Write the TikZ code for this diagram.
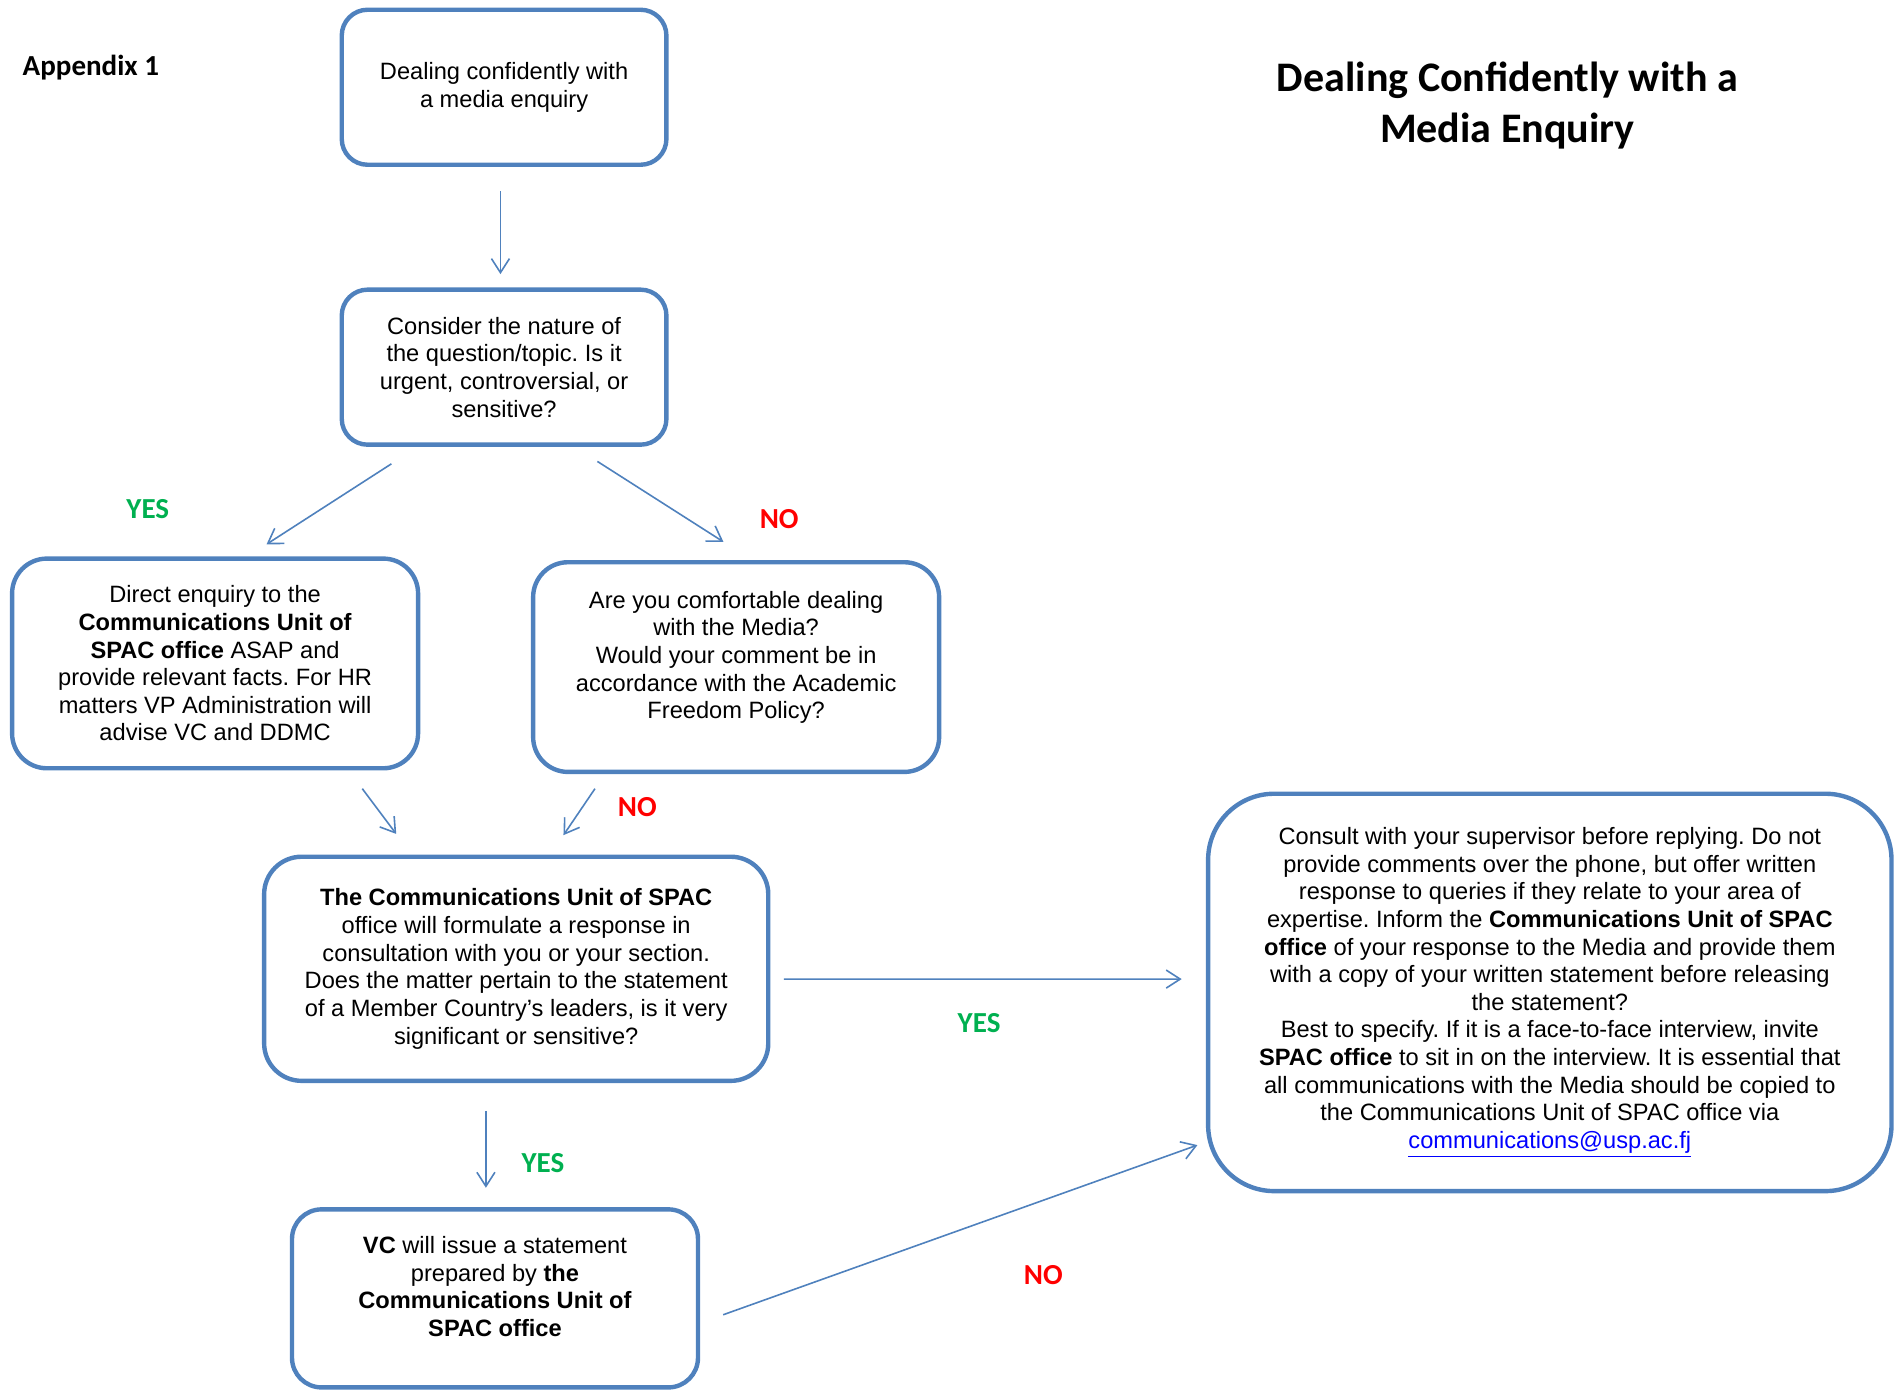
\documentclass[tikz,border=0pt]{standalone}
\usepackage{fontspec}
\setmainfont{Liberation Sans}
\newfontfamily\calibri{Carlito}
\usetikzlibrary{arrows.meta,calc}
\definecolor{boxblue}{RGB}{79,129,189}
\definecolor{yesgreen}{RGB}{0,176,80}
\definecolor{nored}{RGB}{255,0,0}
\definecolor{linkblue}{RGB}{0,0,255}
\frenchspacing
\begin{document}
\begin{tikzpicture}[x=0.605pt, y=-0.605pt,
    stage/.style  = {draw=boxblue, line width=2.2pt, align=center, inner sep=0, font=\fontsize{11.8}{13.8}\selectfont},
    flow/.style   = {-{Straight Barb[length=7pt, width=9pt]}, draw=boxblue, line width=0.8pt},
    yeslbl/.style = {text=yesgreen, font=\calibri\bfseries\fontsize{14.5}{17}\selectfont},
    nolbl/.style  = {text=nored, font=\calibri\bfseries\fontsize{14.5}{17}\selectfont}]
    \useasboundingbox (0,0) rectangle (1568,1147);

    \node[font=\calibri\bfseries\fontsize{14.5}{17}\selectfont] (appendix) at (75,56) {Appendix 1};
    \node[align=center, font=\calibri\bfseries\fontsize{21}{25.4}\selectfont] (title) at (1244,87) {Dealing Confidently with a\\ Media Enquiry};

    \node[stage, minimum width=162.1pt, minimum height=77.4pt, rounded corners=12.9pt] (enquiry)  at (416,72)   {Dealing confidently with\\ a media enquiry};
    \node[stage, minimum width=162.1pt, minimum height=77.4pt, rounded corners=12.9pt] (consider) at (416,303)  {Consider the nature of\\ the question/topic. Is it\\ urgent, controversial, or\\ sensitive?};
    \node[stage, minimum width=202.7pt, minimum height=104.7pt, rounded corners=17.4pt] (direct)  at (177.5,547.5) {Direct enquiry to the\\ \textbf{Communications Unit of}\\ \textbf{SPAC office} ASAP and\\ provide relevant facts. For HR\\ matters VP Administration will\\ advise VC and DDMC};
    \node[stage, minimum width=202.7pt, minimum height=104.7pt, rounded corners=17.4pt, text depth=12.2pt] (comfort) at (607.5,550.5) {Are you comfortable dealing\\ with the Media?\\ Would your comment be in\\ accordance with the Academic\\ Freedom Policy?};
    \node[stage, minimum width=251.7pt, minimum height=111.9pt, rounded corners=18.7pt] (respond) at (426,799.5) {\textbf{The Communications Unit of SPAC}\\ office will formulate a response in\\ consultation with you or your section.\\ Does the matter pertain to the statement\\ of a Member Country’s leaders, is it very\\ significant or sensitive?};
    \node[stage, minimum width=202.7pt, minimum height=88.9pt, rounded corners=14.8pt, text depth=12pt] (vc) at (408.5,1071.5) {\textbf{VC} will issue a statement\\ prepared by \textbf{the}\\ \textbf{Communications Unit of}\\ \textbf{SPAC office}};
    \node[stage, minimum width=341.2pt, minimum height=198.4pt, rounded corners=33pt] (consult)  at (1279,819) {Consult with your supervisor before replying. Do not\\ provide comments over the phone, but offer written\\ response to queries if they relate to your area of\\ expertise. Inform the \textbf{Communications Unit of SPAC}\\ \textbf{office} of your response to the Media and provide them\\ with a copy of your written statement before releasing\\ the statement?\\ Best to specify. If it is a face-to-face interview, invite\\ \textbf{SPAC office} to sit in on the interview. It is essential that\\ all communications with the Media should be copied to\\ the Communications Unit of SPAC office via\\ \textcolor{linkblue}{\underline{communications@usp.ac.fj}}};

    \draw[flow] ($(enquiry.south)+(-3,20)$)   -- ($(consider.north)+(-3,-11)$);
    \draw[flow] ($(consider.south)+(-93,14)$) -- ($(direct.north)+(42.5,-10)$);
    \draw[flow] ($(consider.south)+(77,12)$)  -- ($(comfort.north)+(-10.5,-15)$);
    \draw[flow] ($(direct.south)+(121.5,15)$) -- ($(respond.north)+(-99,-17)$);
    \draw[flow] ($(comfort.south)+(-116.5,12)$) -- ($(respond.north)+(39,-16)$);
    \draw[flow] ($(respond.east)+(11,8.5)$)   -- ($(consult.west)+(-20,-11)$);
    \draw[flow] ($(respond.south)+(-25,23)$)  -- ($(vc.north)+(-7.5,-16)$);
    \draw[flow] ($(vc.east)+(19,13.5)$)       -- ($(consult.west)+(-7,126)$);

    \node[yeslbl] (yes1) at (122,420)  {YES};
    \node[nolbl]  (no1)  at (643,428)  {NO};
    \node[nolbl]  (no2)  at (526,666)  {NO};
    \node[yeslbl] (yes2) at (808,844)  {YES};
    \node[yeslbl] (yes3) at (448,960)  {YES};
    \node[nolbl]  (no3)  at (861,1052) {NO};
\end{tikzpicture}
\end{document}
